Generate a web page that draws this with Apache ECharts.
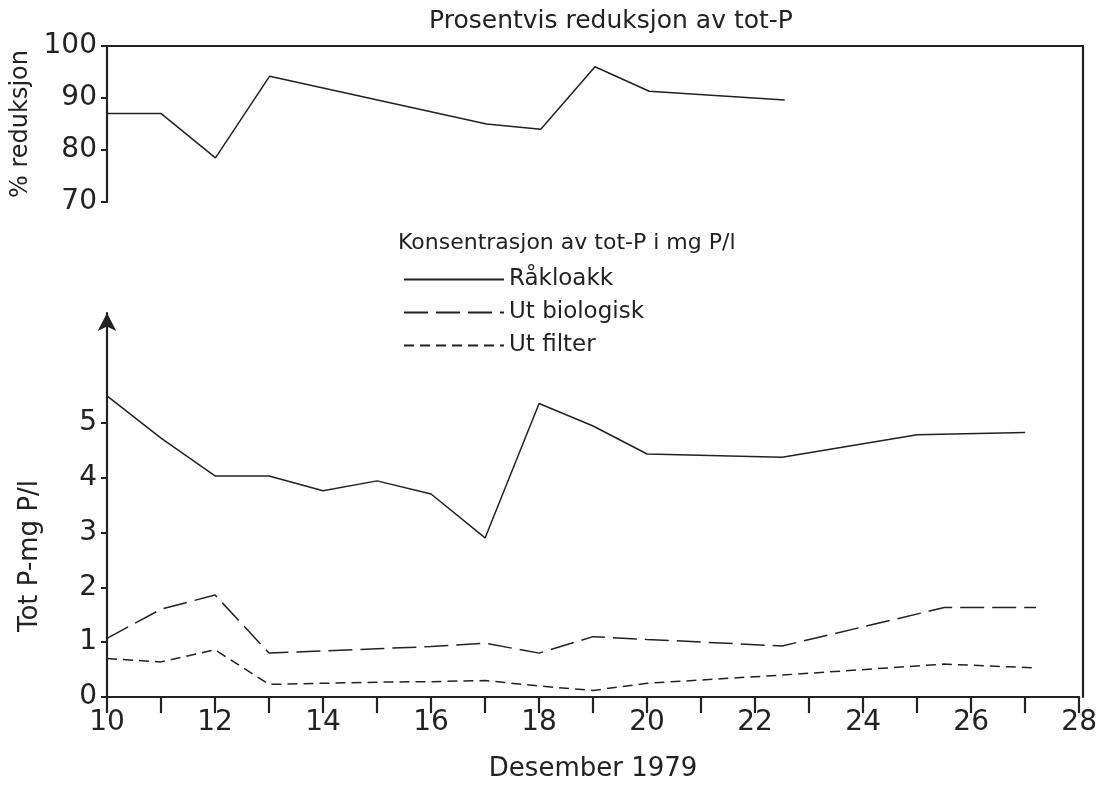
<!DOCTYPE html>
<html>
<head>
<meta charset="utf-8">
<script src="https://cdn.jsdelivr.net/npm/echarts@6/dist/echarts.min.js"></script>
<style>html,body{margin:0;padding:0;background:#fff}#c{width:1100px;height:787px}</style>
</head>
<body>
<div id="c"></div>
<script>
// ---- data (December 1979) ----
const reductionDays = [10, 11, 12, 13, 17, 18, 19, 20, 22.5];
const reductionPct  = [87, 87, 78.5, 94.2, 85, 84, 96, 91.3, 89.6];

const rawDays   = [10, 11, 12, 13, 14, 15, 16, 17, 18, 19, 20, 22.5, 25, 27];
const rawValues = [5.49, 4.72, 4.03, 4.03, 3.76, 3.94, 3.70, 2.90, 5.35, 4.94, 4.43, 4.37, 4.78, 4.82];

const bioDays   = [10, 11, 12, 13, 14, 15, 16, 17, 18, 19, 20, 22.5, 25.5, 27.2];
const bioValues = [1.07, 1.60, 1.86, 0.80, 0.84, 0.88, 0.92, 0.98, 0.80, 1.10, 1.05, 0.93, 1.63, 1.63];

const filterDays   = [10, 11, 12, 13, 14, 15, 16, 17, 18, 19, 20, 22.5, 25.5, 27.2];
const filterValues = [0.70, 0.64, 0.86, 0.23, 0.25, 0.27, 0.28, 0.30, 0.20, 0.12, 0.25, 0.40, 0.60, 0.53];

const xTickLabels = [10, 12, 14, 16, 18, 20, 22, 24, 26, 28];
const reductionTicks = [70, 80, 90, 100];
const concTicks = [0, 1, 2, 3, 4, 5];

const seriesNames = ['Råkloakk', 'Ut biologisk', 'Ut filter'];

// ---- chart ----
const FONT = 'DejaVu Sans';
const INK = '#222';
const axisLineStyle = { color: INK, width: 2.2 };
const pair = (xs, ys) => xs.map((x, i) => [x, ys[i]]);

const chart = echarts.init(document.getElementById('c'), null, { renderer: 'canvas' });
chart.setOption({
  backgroundColor: '#fff',
  animation: false,
  textStyle: { fontFamily: FONT, color: INK },
  grid: [
    { left: 107, right: 17, top: 46, height: 156 },
    { left: 107, right: 17, top: 313, bottom: 90 },
    { left: 107, right: 17, top: 46, bottom: 90 }
  ],
  xAxis: [
    { gridIndex: 0, type: 'value', min: 10, max: 28, position: 'top',
      axisLine: { show: true, lineStyle: axisLineStyle },
      axisTick: { show: false }, axisLabel: { show: false }, splitLine: { show: false } },
    { gridIndex: 1, type: 'value', min: 10, max: 28, interval: 1,
      axisLine: { show: true, lineStyle: axisLineStyle },
      axisTick: { show: true, length: 16, lineStyle: { color: INK, width: 2.2 } },
      axisLabel: { fontSize: 28, color: INK, fontFamily: FONT, margin: 12,
        formatter: v => xTickLabels.includes(v) ? String(v) : '' },
      splitLine: { show: false },
      name: 'Desember 1979', nameLocation: 'middle', nameGap: 59,
      nameTextStyle: { fontSize: 26, color: INK, fontFamily: FONT } },
    { gridIndex: 2, type: 'value', min: 10, max: 28, show: false }
  ],
  yAxis: [
    { gridIndex: 0, type: 'value', min: 70, max: 100, interval: 10,
      axisLine: { show: true, lineStyle: axisLineStyle },
      axisTick: { show: true, length: 6, customValues: reductionTicks, lineStyle: { color: INK, width: 2 } },
      axisLabel: { fontSize: 28, color: INK, fontFamily: FONT, margin: 10, customValues: reductionTicks },
      splitLine: { show: false },
      name: '% reduksjon', nameLocation: 'middle', nameRotate: 90, nameGap: 68,
      nameTextStyle: { fontSize: 24, color: INK, fontFamily: FONT } },
    { gridIndex: 1, type: 'value', min: 0, max: 7, interval: 1,
      axisLine: { show: true, lineStyle: axisLineStyle, symbol: ['none', 'arrow'], symbolSize: [14, 18] },
      axisTick: { show: true, length: 6, customValues: concTicks, lineStyle: { color: INK, width: 2 } },
      axisLabel: { fontSize: 28, color: INK, fontFamily: FONT, margin: 10, customValues: concTicks },
      splitLine: { show: false } },
    { gridIndex: 2, type: 'value', min: 0, max: 1, position: 'right',
      axisLine: { show: true, lineStyle: axisLineStyle },
      axisTick: { show: false }, axisLabel: { show: false }, splitLine: { show: false } }
  ],
  legend: {
    data: seriesNames,
    orient: 'vertical', left: 398, top: 263,
    itemWidth: 100, itemHeight: 20, itemGap: 10,
    itemStyle: { opacity: 0, borderWidth: 0 },
    textStyle: { fontSize: 23, lineHeight: 20, color: INK, fontFamily: FONT },
    inactiveColor: INK
  },
  graphic: [
    { type: 'text', x: 611, y: 21,
      style: { text: 'Prosentvis reduksjon av tot-P', font: '25px "DejaVu Sans"', fill: INK, align: 'center', verticalAlign: 'middle' } },
    { type: 'text', x: 398, y: 243,
      style: { text: 'Konsentrasjon av tot-P i mg P/l', font: '22px "DejaVu Sans"', fill: INK, align: 'left', verticalAlign: 'middle' } },
    { type: 'text', x: 30, y: 556, rotation: Math.PI / 2,
      style: { text: 'Tot P-mg P/l', font: '26px "DejaVu Sans"', fill: INK, align: 'center', verticalAlign: 'middle' } }
  ],
  series: [
    { type: 'line', name: 'reduksjon', xAxisIndex: 0, yAxisIndex: 0, symbol: 'none',
      data: pair(reductionDays, reductionPct),
      lineStyle: { color: INK, width: 1.5 }, itemStyle: { color: INK } },
    { type: 'line', name: seriesNames[0], xAxisIndex: 1, yAxisIndex: 1, symbol: 'none',
      data: pair(rawDays, rawValues),
      lineStyle: { color: INK, width: 1.5, type: 'solid' }, itemStyle: { color: INK } },
    { type: 'line', name: seriesNames[1], xAxisIndex: 1, yAxisIndex: 1, symbol: 'none',
      data: pair(bioDays, bioValues),
      lineStyle: { color: INK, width: 1.5, type: [24, 8] }, itemStyle: { color: INK } },
    { type: 'line', name: seriesNames[2], xAxisIndex: 1, yAxisIndex: 1, symbol: 'none',
      data: pair(filterDays, filterValues),
      lineStyle: { color: INK, width: 1.5, type: [10, 6] }, itemStyle: { color: INK } }
  ]
});
</script>
</body>
</html>
